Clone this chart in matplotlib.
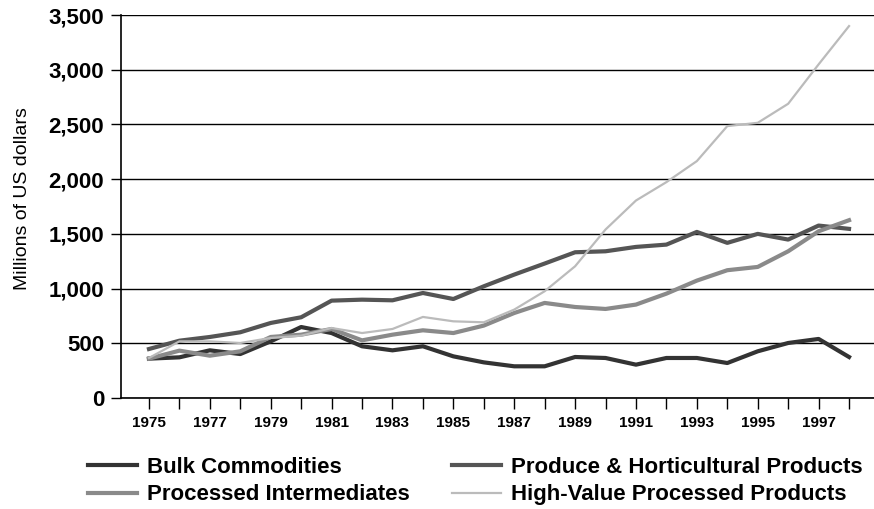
import matplotlib.pyplot as plt
import numpy as np

plt.rcParams['font.family'] = ['Liberation Sans', 'DejaVu Sans']

years = list(range(1975, 1999))
bulk = [360, 372, 436, 402, 518, 649, 594, 473, 436, 473, 381, 326,
        290, 290, 375, 366, 305, 366, 366, 320, 427, 503, 540, 375]
produce = [448, 524, 558, 601, 686, 738, 890, 899, 893, 960, 905, 1021,
           1128, 1229, 1332, 1341, 1381, 1402, 1518, 1418, 1500, 1448, 1576, 1546]
intermed = [360, 433, 387, 427, 558, 579, 631, 527, 579, 619, 594, 662,
            777, 869, 832, 814, 854, 954, 1073, 1168, 1198, 1341, 1524, 1625]
highval = [366, 518, 518, 503, 549, 570, 640, 594, 631, 741, 701, 692,
           808, 976, 1204, 1540, 1805, 1973, 2165, 2485, 2515, 2689, 3049, 3399]

fig = plt.figure(figsize=(8.74, 5.09), dpi=100)
ax = fig.add_axes([0.1384, 0.218, 0.8616, 0.7525])

l1, = ax.plot(years, bulk, color='#333333', lw=3, label='Bulk Commodities')
l2, = ax.plot(years, produce, color='#555555', lw=3, label='Produce & Horticultural Products')
l3, = ax.plot(years, intermed, color='#8a8a8a', lw=3, label='Processed Intermediates')
l4, = ax.plot(years, highval, color='#bbbbbb', lw=1.6, label='High-Value Processed Products')

ax.set_xlim(1974.08, 1998.82)
ax.set_ylim(0, 3500)
ax.set_yticks(np.arange(0, 3501, 500))
ax.set_yticklabels([f'{v:,}' for v in range(0, 3501, 500)], fontsize=16, fontweight='bold')
ax.set_xticks(years)
ax.set_xticklabels([str(y) if (y - 1975) % 2 == 0 else '' for y in years],
                   fontsize=11, fontweight='bold')
ax.tick_params(axis='y', direction='out', length=7, width=1, pad=5)
ax.tick_params(axis='x', direction='out', length=8, width=1, pad=5)
ax.yaxis.grid(True, color='black', lw=1)
ax.set_axisbelow(True)
for s in ['top', 'right']:
    ax.spines[s].set_visible(False)
ax.spines['left'].set_linewidth(1.2)
ax.spines['bottom'].set_linewidth(1.2)
ax.set_ylabel('Millions of US dollars', fontsize=14)
ax.yaxis.set_label_coords(-0.119, 0.52)

fig.legend([l1, l3, l2, l4], [l1.get_label(), l3.get_label(), l2.get_label(), l4.get_label()],
           ncol=2, loc='center', bbox_to_anchor=(0.544, 0.055), frameon=False,
           prop={'weight': 'bold', 'size': 16}, handlelength=2.2,
           columnspacing=1.9, labelspacing=0.3, handletextpad=0.45)

fig.savefig('out.png')
